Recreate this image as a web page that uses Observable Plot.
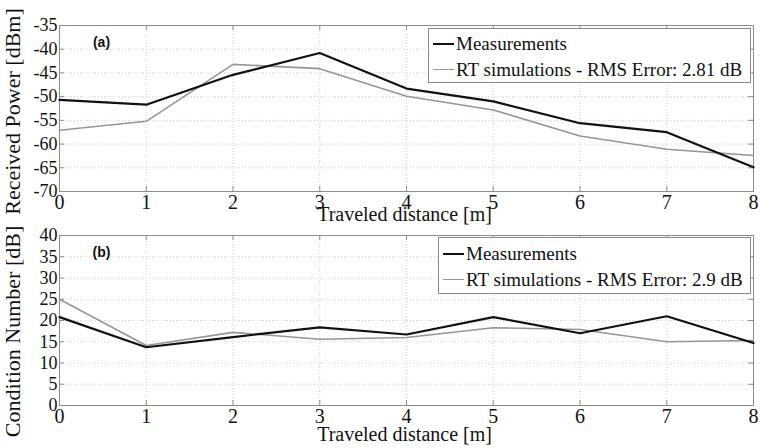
<!DOCTYPE html>
<html>
<head>
<meta charset="utf-8">
<script src="https://cdn.jsdelivr.net/npm/d3@7"></script>
<script src="https://cdn.jsdelivr.net/npm/@observablehq/plot@0.6"></script>
<style>
  body { margin: 0; background: #fff; }
  #wrap { position: relative; width: 760px; height: 448px; overflow: hidden; font-family: "Liberation Serif", "Times New Roman", serif; }
  .panel { position: absolute; left: 0; }
  .legend { position: absolute; background: #fff; border: 1px solid #8a8a8a; box-sizing: border-box; font-size: 19px; color: #111; }
  .row { position: absolute; left: 4px; display: flex; align-items: center; white-space: nowrap; height: 22px; }
  .swatch { width: 21px; margin-right: 2px; }
</style>
</head>
<body>
<div id="wrap"></div>
<script>
// ---- data ----
const distances = [0, 1, 2, 3, 4, 5, 6, 7, 8];
const seriesNames = ["Measurements", "RT simulations"];
const measPower = [-50.7, -51.7, -45.4, -40.8, -48.3, -51.0, -55.6, -57.5, -64.9];
const rtPower   = [-57.1, -55.2, -43.2, -44.1, -49.9, -52.8, -58.3, -61.1, -62.4];
const measCond  = [20.8, 13.7, 16.1, 18.4, 16.7, 20.8, 17.0, 21.0, 14.7];
const rtCond    = [25.0, 14.1, 17.2, 15.6, 16.0, 18.3, 17.9, 15.0, 15.3];
const powerTicks = [-70, -65, -60, -55, -50, -45, -40, -35];
const condTicks  = [0, 5, 10, 15, 20, 25, 30, 35, 40];
const rmsLabels = ["RMS Error: 2.81 dB", "RMS Error: 2.9 dB"];
const xLabel = "Traveled distance [m]";
const yLabels = ["Received Power [dBm]", "Condition Number [dB]"];
const tags = ["(a)", "(b)"];

const W = 760, ML = 59, MR = 7;
const seriesStyle = [
  {stroke: "#111111", width: 2.2},
  {stroke: "#959595", width: 1.6}
];

function panel(o) {
  const plotH = o.height - o.mt - o.mb;
  const plotW = W - ML - MR;
  const grid = {stroke: "#cfcfcf", strokeDasharray: "1,2", strokeWidth: 1};
  const tickStyle = {stroke: "#8c8c8c", strokeWidth: 1};
  return Plot.plot({
    width: W, height: o.height,
    marginTop: o.mt, marginBottom: o.mb, marginLeft: ML, marginRight: MR,
    style: {background: "transparent", overflow: "visible", fontFamily: "'Liberation Serif', 'Times New Roman', serif", fontSize: "18px", color: "#111"},
    x: {domain: [0, 8]},
    y: {domain: [o.ticks[0], o.ticks[o.ticks.length - 1]]},
    marks: [
      Plot.ruleX(distances, {x: d => d, ...grid}),
      Plot.ruleY(o.ticks, {y: d => d, ...grid}),
      Plot.frame({stroke: "#8c8c8c"}),
      Plot.tickX(distances, {x: d => d, insetTop: plotH - 5, ...tickStyle}),
      Plot.tickX(distances, {x: d => d, insetBottom: plotH - 5, ...tickStyle}),
      Plot.tickY(o.ticks, {y: d => d, insetRight: plotW - 5, ...tickStyle}),
      Plot.tickY(o.ticks, {y: d => d, insetLeft: plotW - 5, ...tickStyle}),
      Plot.axisX({ticks: distances, tickSize: 0, tickPadding: 3, tickFormat: d => String(d), label: null, fontSize: 20}),
      Plot.axisY({ticks: o.ticks, tickSize: 0, tickPadding: 2, tickFormat: d => String(d), label: null, fontSize: 18}),
      Plot.line(distances, {x: d => d, y: (d, i) => o.rt[i], stroke: seriesStyle[1].stroke, strokeWidth: seriesStyle[1].width}),
      Plot.line(distances, {x: d => d, y: (d, i) => o.meas[i], stroke: seriesStyle[0].stroke, strokeWidth: seriesStyle[0].width}),
      Plot.text([o.tag], {frameAnchor: "top-left", textAnchor: "middle", dx: 42, dy: 12, fontFamily: "'Liberation Sans', Arial, sans-serif", fontWeight: "bold", fontSize: 14, fill: "#111"}),
      Plot.text([xLabel], {frameAnchor: "bottom", dx: -2, dy: o.xdy, fontSize: 20, fill: "#111"}),
      Plot.text([o.ylabel], {frameAnchor: "left", textAnchor: "middle", rotate: -90, dx: -47, dy: o.ydy, fontSize: 22, fill: "#111"})
    ]
  });
}

const wrap = document.getElementById("wrap");
const panels = [
  {top: 0, height: 222, mt: 25, mb: 31, ticks: powerTicks, meas: measPower, rt: rtPower, tag: tags[0], ylabel: yLabels[0], xdy: 29, ydy: 3,
   legend: {left: 428, top: 28, width: 323, height: 55, rms: rmsLabels[0]}},
  {top: 222, height: 226, mt: 13, mb: 43, ticks: condTicks, meas: measCond, rt: rtCond, tag: tags[1], ylabel: yLabels[1], xdy: 35, ydy: 11,
   legend: {left: 438, top: 237, width: 313, height: 57, rms: rmsLabels[1]}}
];

panels.forEach(p => {
  const svg = panel(p);
  svg.classList.add("panel");
  svg.style.top = p.top + "px";
  wrap.appendChild(svg);
});

// legends (drawn after both panels so they sit on top)
panels.forEach(p => {
  const L = p.legend;
  const box = document.createElement("div");
  box.className = "legend";
  Object.assign(box.style, {left: L.left + "px", top: L.top + "px", width: L.width + "px", height: L.height + "px"});
  const labels = [seriesNames[0], seriesNames[1] + " - " + L.rms];
  labels.forEach((lab, i) => {
    const row = document.createElement("div");
    row.className = "row";
    row.style.top = (L.height / 2 - 24 + i * 26) + "px";
    const sw = document.createElement("div");
    sw.className = "swatch";
    sw.style.borderTop = `${seriesStyle[i].width}px solid ${seriesStyle[i].stroke}`;
    const t = document.createElement("span");
    t.textContent = lab;
    row.appendChild(sw); row.appendChild(t);
    box.appendChild(row);
  });
  wrap.appendChild(box);
});
</script>
</body>
</html>
